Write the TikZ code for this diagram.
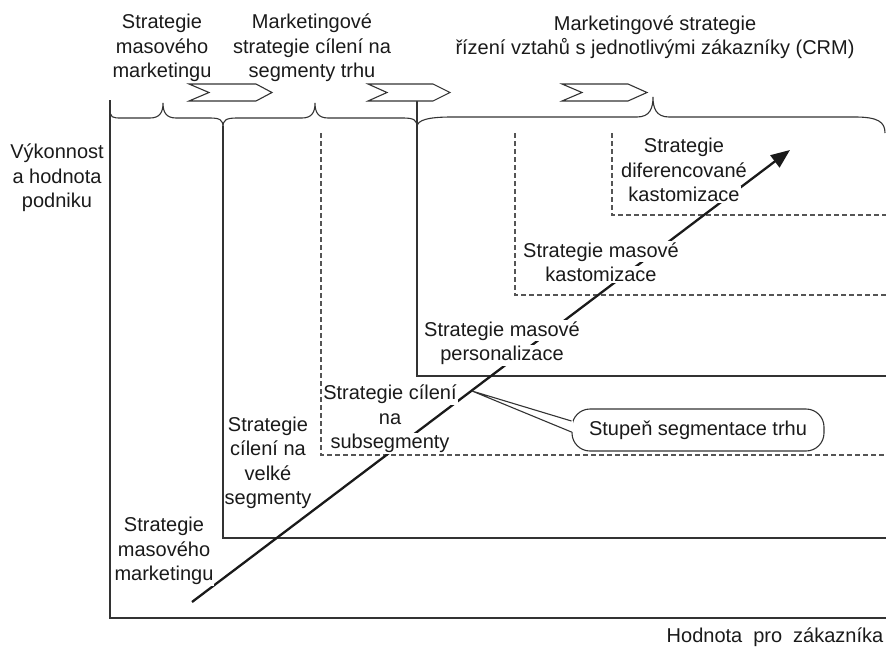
\documentclass[tikz,border=0pt]{standalone}
\usepackage{fontspec}
\setmainfont{Liberation Sans}
\usetikzlibrary{arrows.meta}
\definecolor{ink}{HTML}{1A1A1A}
\definecolor{framec}{HTML}{333333}
\definecolor{dashc}{HTML}{555555}
\newcommand\lblfont{\fontsize{20}{24.5}\selectfont}
% white backing behind a single text line, so the trend arrow is interrupted
\newcommand\wb[1]{{\setlength{\fboxsep}{1pt}\colorbox{white}{#1}}}
\begin{document}
\begin{tikzpicture}[x=1pt,y=-1pt,
  solidline/.style={draw=framec, line width=1.2pt},
  dashline/.style={draw=dashc, line width=1.1pt, dash pattern=on 5pt off 3pt},
  bracestyle/.style={draw=framec, line width=1.1pt},
  chevron/.style={draw=framec, line width=1.1pt, fill=white, line join=miter},
  lbl/.style={font=\lblfont, text=ink, align=center, inner sep=0pt},
  trend/.style={draw=ink, line width=2.3pt, -{Triangle[length=19pt,width=15pt]}},
  callout/.style={draw=framec, line width=1.1pt, rounded corners=18pt,
    minimum width=252pt, minimum height=42pt, font=\lblfont, text=ink, fill=white}]
\useasboundingbox (0,0) rectangle (886,648);

% nested strategy levels
\draw[solidline] (110,100) -- (110,618) -- (886,618);
\draw[solidline] (223,126) -- (223,538) -- (886,538);
\draw[dashline]  (321,133) -- (321,455) -- (886,455);
\draw[solidline] (417,101) -- (417,376) -- (886,376);
\draw[dashline]  (515,133) -- (515,295) -- (886,295);
\draw[dashline]  (612,133) -- (612,215) -- (886,215);

% braces over the three eras
\draw[bracestyle] (110,108) .. controls (110,118) and (112,118) .. (122,118)
  -- (150,118) .. controls (160,118) and (163,112) .. (163,103)
  .. controls (163,112) and (166,118) .. (176,118)
  -- (210,118) .. controls (220,118) and (223,120) .. (223,127);
\draw[bracestyle] (223,127) .. controls (223,120) and (226,118) .. (237,118)
  -- (302,118) .. controls (312,118) and (315,112) .. (315,103)
  .. controls (315,112) and (318,118) .. (328,118)
  -- (403,118) .. controls (414,118) and (417,120) .. (417,127);
\draw[bracestyle] (417,127) .. controls (417,120) and (428,117) .. (452,117)
  -- (637,117) .. controls (650,117) and (653,108) .. (653,97)
  .. controls (653,108) and (656,117) .. (669,117)
  -- (855,117) .. controls (878,117) and (885,122) .. (885,133);

% transition chevrons
\draw[chevron] (189,84) -- (256,84) -- (272,92.5) -- (256,101) -- (189,101) -- (209,92.5) -- cycle;
\draw[chevron] (368,84) -- (433,84) -- (450,92.5) -- (433,101) -- (368,101) -- (387,92.5) -- cycle;
\draw[chevron] (562,84) -- (628,84) -- (647,92.5) -- (628,101) -- (562,101) -- (582,92.5) -- cycle;

% trend arrow
\coordinate (tail) at (192,602);
\coordinate (head) at (790,150);
\draw[trend] (tail) -- (head);

% era titles
\node[lbl] (eraA) at (162,48) {Strategie\\masového\\marketingu};
\node[lbl] (eraB) at (312,48) {Marketingové\\strategie cílení na\\segmenty trhu};
\node[lbl] (eraC) at (655,37) {Marketingové strategie\\řízení vztahů s jednotlivými zákazníky (CRM)};

% axes
\node[lbl] (yaxis) at (57,178) {Výkonnost\\a hodnota\\podniku};
\node[lbl] (xaxis) at (775,637) {Hodnota\hspace{0.55em}pro\hspace{0.55em}zákazníka};

% strategy levels
\node[lbl] (sE) at (684,170) {\wb{Strategie}\\\wb{diferencované}\\\wb{kastomizace}};
\node[lbl] (sD) at (601,262) {\wb{Strategie masové}\\\wb{kastomizace}};
\node[lbl] (sC) at (502,343) {\wb{Strategie masové}\\\wb{personalizace}};
\node[lbl] (sB) at (390,419) {\wb{Strategie cílení}\\\wb{na}\\\wb{subsegmenty}};
\node[lbl] (sA) at (268,463) {\wb{Strategie}\\\wb{cílení na}\\\wb{velké}\\\wb{segmenty}};
\node[lbl] (s0) at (164,551) {\wb{Strategie}\\\wb{masového}\\\wb{marketingu}};

% callout
\node[callout] (seg) at (698,430) {Stupeň segmentace trhu};
\coordinate (segtip) at (472,391);
\fill[white] (segtip) -- ([yshift=9pt,xshift=1.5pt]seg.west) -- ([yshift=-2pt,xshift=1.5pt]seg.west) -- cycle;
\draw[draw=framec, line width=1.1pt] ([yshift=9pt]seg.west) -- (segtip) -- ([yshift=-2pt]seg.west);
\end{tikzpicture}
\end{document}
